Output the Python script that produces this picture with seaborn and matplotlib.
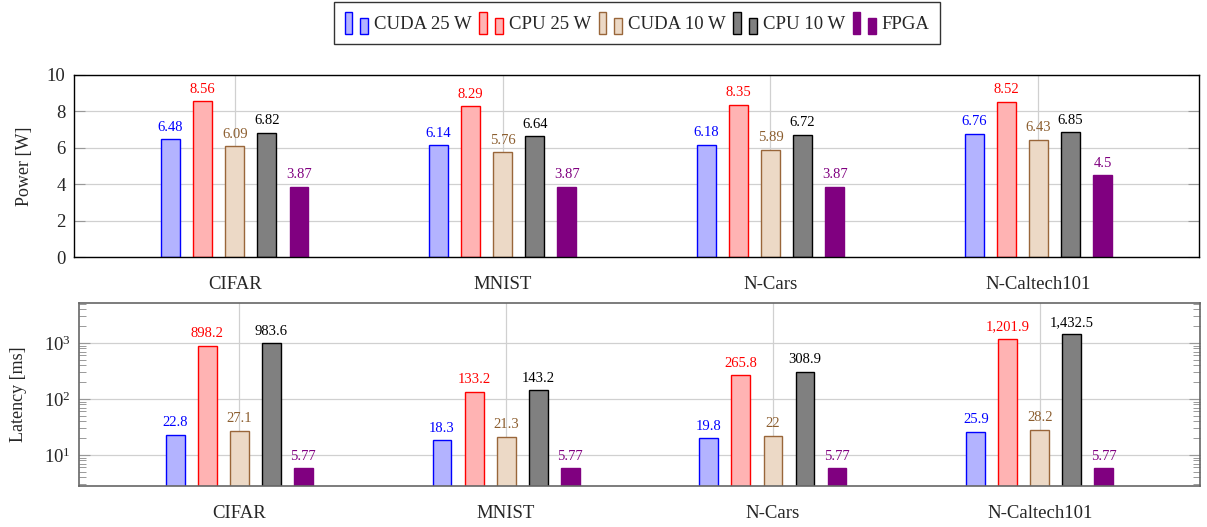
import pandas as pd
import numpy as np
import matplotlib
matplotlib.use('Agg')
import matplotlib.pyplot as plt
import seaborn as sns
from matplotlib.patches import Patch, Rectangle
from matplotlib.legend_handler import HandlerBase
from matplotlib.ticker import LogLocator, MultipleLocator

# Data
datasets = ['CIFAR', 'MNIST', 'N-Cars', 'N-Caltech101']
platforms = ['CUDA 25 W', 'CPU 25 W', 'CUDA 10 W', 'CPU 10 W', 'FPGA']

cuda25_power = [6.48, 6.14, 6.18, 6.76]
cpu25_power = [8.56, 8.29, 8.35, 8.52]
cuda10_power = [6.09, 5.76, 5.89, 6.43]
cpu10_power = [6.82, 6.64, 6.72, 6.85]
fpga_power = [3.87, 3.87, 3.87, 4.5]

cuda25_latency = [22.8, 18.3, 19.8, 25.9]
cpu25_latency = [898.2, 133.2, 265.8, 1201.9]
cuda10_latency = [27.1, 21.3, 22.0, 28.2]
cpu10_latency = [983.6, 143.2, 308.9, 1432.5]
fpga_latency = [5.77, 5.77, 5.77, 5.77]

fill_colors = ['#b3b3ff', '#ffb3b3', '#ecd9c6', '#808080', '#800080']
edge_colors = ['#0000ff', '#ff0000', '#99663a', '#000000', '#800080']
text_colors = ['#0000ff', '#ff0000', '#8c5e2f', '#000000', '#800080']

power = [cuda25_power, cpu25_power, cuda10_power, cpu10_power, fpga_power]
latency = [cuda25_latency, cpu25_latency, cuda10_latency, cpu10_latency, fpga_latency]

rows = []
for p, pw, lt in zip(platforms, power, latency):
    for d, a, b in zip(datasets, pw, lt):
        rows.append({'dataset': d, 'platform': p, 'power': a, 'latency': b})
df = pd.DataFrame(rows)


def fmt(v):
    return '{:,.2f}'.format(v).rstrip('0').rstrip('.')


class HandlerTwoBars(HandlerBase):
    def create_artists(self, legend, orig_handle, xdescent, ydescent,
                       width, height, fontsize, trans):
        w = width * 0.33
        fc = orig_handle.get_facecolor()
        ec = orig_handle.get_edgecolor()
        r1 = Rectangle((-xdescent, -ydescent), w, height, fc=fc, ec=ec,
                       lw=1.0, transform=trans)
        r2 = Rectangle((-xdescent + width * 0.67, -ydescent), w, height * 0.73,
                       fc=fc, ec=ec, lw=1.0, transform=trans)
        return [r1, r2]


sns.set_theme(style='white')
plt.rcParams['font.family'] = ['Liberation Serif', 'DejaVu Serif']
plt.rcParams['mathtext.fontset'] = 'stix'

fig = plt.figure(figsize=(12.07, 5.27), dpi=100)
ax1 = fig.add_axes([0.0613, 0.5123, 0.9321, 0.3454])
ax2 = fig.add_axes([0.0655, 0.0778, 0.9287, 0.3472])


def draw(ax, col, values):
    sns.barplot(data=df, x='dataset', y=col, hue='platform', order=datasets,
                hue_order=platforms, palette=fill_colors, width=0.6, gap=0.41,
                saturation=1, legend=False, ax=ax)
    for i, cont in enumerate(ax.containers):
        for bar in cont:
            bar.set_edgecolor(edge_colors[i])
            bar.set_linewidth(1.0)
        ax.bar_label(cont, labels=[fmt(v) for v in values[i]], padding=4,
                     color=text_colors[i], fontsize=10.5)
    ax.set_xlim(-0.6, 3.6)
    ax.set_xlabel('')
    ax.set_axisbelow(True)
    ax.grid(True, which='major', color='#d0d0d0', lw=0.9)
    ax.tick_params(axis='x', direction='out', length=8, width=0.8,
                   color='#999999', pad=6, labelsize=13.5)
    ax.tick_params(axis='y', which='major', direction='in', length=8,
                   width=0.8, color='#999999', left=True, right=True,
                   labelsize=13.5, pad=6)


draw(ax1, 'power', power)
ax1.set_ylim(0, 10)
ax1.yaxis.set_major_locator(MultipleLocator(2))
ax1.set_ylabel('Power [W]', fontsize=13, labelpad=10)
for s in ax1.spines.values():
    s.set_color('black')
    s.set_linewidth(1.0)

draw(ax2, 'latency', latency)
ax2.set_yscale('log')
ax2.set_ylim(2.79, 5180)
ax2.yaxis.set_major_locator(LogLocator(base=10, numticks=10))
ax2.yaxis.set_minor_locator(LogLocator(base=10, subs=np.arange(2, 10), numticks=10))
ax2.tick_params(axis='y', which='major', direction='in', length=8,
                width=0.8, color='#999999', left=True, right=True,
                labelsize=13.5, pad=6)
ax2.tick_params(axis='y', which='minor', direction='in', length=5,
                width=0.7, color='#999999', left=True, right=True)
ax2.set_ylabel('Latency [ms]', fontsize=13, labelpad=12)
for s in ax2.spines.values():
    s.set_color('#666666')
    s.set_linewidth(1.2)

handles = [Patch(facecolor=f, edgecolor=e) for f, e in zip(fill_colors, edge_colors)]
leg = fig.legend(handles, platforms, loc='upper center',
                 bbox_to_anchor=(0.528, 0.997), ncol=5, fontsize=13.5,
                 handler_map={Patch: HandlerTwoBars()}, handlelength=1.25,
                 handleheight=1.4, handletextpad=0.32, columnspacing=0.4,
                 frameon=True, fancybox=False, edgecolor='black',
                 borderpad=0.55, borderaxespad=0)
leg.get_frame().set_linewidth(1.0)

fig.savefig('out.png', dpi=100)
